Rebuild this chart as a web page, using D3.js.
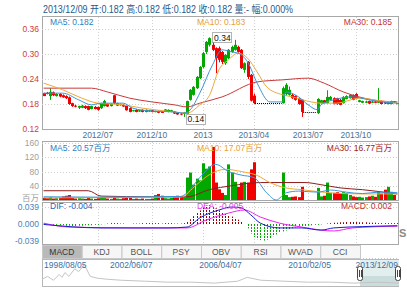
<!DOCTYPE html>
<html><head><meta charset="utf-8">
<script src="https://cdn.jsdelivr.net/npm/d3@7"></script>
<style>body{margin:0;background:#fff;overflow:hidden}svg{display:block;font-family:"Liberation Sans","Noto Sans CJK SC",Arial,sans-serif}</style>
</head><body><svg id="c" width="407" height="289"></svg>
<script>
// ---------- DATA ----------
const headerText = "2013/12/09 开:0.182 高:0.182 低:0.182 收:0.182 量:- 幅:0.000%";
const opens = [
.206,.207,.199,.208,.199,.204,.201,.199,.196,.182,
.176,.171,.171,.175,.175,.168,.173,.173,.170,.175,
.180,.175,.201,.176,.177,.178,.176,.170,.163,.166,
.162,.166,.161,.162,.165,.161,.163,.161,.163,.161,
.161,.162,.159,.157,.156,.156,.190,.202,.218,.242,
.269,.305,.322,.322,.314,.314,.305,.278,.290,.305,
.310,.317,.310,.262,.281,.250,.200,null,null,null,
null,null,null,null,null,.182,.204,.202,.202,.199,
.194,.190,null,null,null,null,.158,.182,.189,.182,
.190,.194,.194,.190,.182,.192,.194,.201,.204,.185,
.183,.183,.187,.183,.186,.183,.187,.185,.180,.180,
.186,.182];
const highs = [
.207,.209,.218,.210,.206,.206,.203,.201,.198,.183,
.178,.176,.178,.177,.176,.176,.175,.174,.183,.190,
.182,.181,.202,.183,.181,.179,.177,.172,.166,.168,
.166,.167,.167,.166,.166,.164,.164,.162,.168,.167,
.166,.163,.160,.158,.161,.188,.216,.223,.247,.271,
.305,.331,.340,.340,.316,.318,.307,.300,.312,.320,
.334,.320,.312,.280,.283,.252,.205,null,null,null,
null,null,null,null,null,.222,.230,.222,.205,.201,
.196,.192,null,null,null,null,.194,.190,.190,.213,
.199,.196,.195,.192,.199,.201,.204,.203,.206,.190,
.188,.188,.188,.187,.187,.218,.188,.186,.185,.188,
.187,.182];
const lows = [
.199,.203,.190,.199,.198,.196,.195,.192,.178,.173,
.172,.168,.170,.168,.165,.167,.167,.164,.168,.174,
.173,.174,.180,.175,.176,.173,.164,.160,.162,.160,
.161,.160,.160,.161,.160,.160,.158,.159,.162,.160,
.160,.156,.154,.153,.149,.155,.188,.200,.216,.240,
.266,.300,.318,.307,.254,.280,.276,.274,.288,.303,
.308,.303,.264,.255,.240,.186,.180,null,null,null,
null,null,null,null,null,.181,.200,.200,.192,.188,
.178,.149,null,null,null,null,.156,.181,.181,.181,
.188,.179,.178,.177,.181,.191,.193,.189,.191,.184,
.182,.182,.180,.182,.182,.182,.179,.180,.179,.179,
.182,.182];
const closes = [
.199,.204,.209,.201,.204,.198,.196,.194,.180,.175,
.174,.175,.176,.170,.166,.175,.168,.166,.182,.187,
.174,.180,.182,.182,.180,.174,.165,.161,.165,.161,
.165,.161,.166,.165,.161,.163,.159,.160,.167,.166,
.165,.157,.155,.155,.160,.187,.214,.221,.245,.269,
.302,.329,.338,.310,.290,.286,.281,.298,.310,.317,
.322,.305,.266,.278,.245,.188,.182,null,null,null,
null,null,null,null,null,.218,.226,.214,.194,.190,
.180,.161,null,null,null,null,.192,.189,.182,.197,
.197,.180,.180,.178,.197,.199,.202,.190,.192,.189,
.187,.186,.181,.186,.183,.187,.180,.181,.184,.187,
.183,.182];
const volumes = [
6,5,8,4,5,6,10,12,14,6,
4,5,4,3,6,4,3,5,7,6,
4,3,9,4,3,5,8,6,3,4,
3,4,3,3,4,14,17,12,5,4,
6,9,12,10,8,63,77,43,60,55,
103,88,94,149,49,30,20,14,100,77,
51,37,49,51,49,86,106,0,0,0,
0,0,0,0,0,77,14,8,9,10,
8,37,0,0,0,0,34,10,12,49,
20,20,22,18,22,20,14,10,8,9,
7,8,10,12,9,23,18,29,37,23,
14,0];
const macdBars = [
0.001,0,-0.001,-0.002,-0.002,-0.003,-0.003,-0.004,-0.004,-0.005,
-0.005,-0.004,-0.004,-0.003,-0.003,-0.003,-0.002,-0.002,-0.001,0,
0.001,0.002,0.002,0.002,0.001,0.001,0,0,0.001,0.001,
0.001,0.002,0.002,0.002,0.002,0.002,0.002,0.001,0.002,0.002,
0.002,0.001,0.001,0.001,0.002,0.005,0.011,0.018,0.025,0.031,
0.038,0.042,0.043,0.040,0.036,0.031,0.026,0.023,0.020,0.017,
0.014,0.010,0.006,0,-0.010,-0.022,-0.030,-0.035,-0.037,-0.038,
-0.036,-0.032,-0.028,-0.024,-0.020,-0.017,-0.015,-0.012,-0.010,-0.008,
-0.006,-0.005,-0.005,-0.004,-0.003,-0.002,-0.002,-0.001,0,0.001,
0.002,0.003,0.003,0.004,0.004,0.005,0.005,0.005,0.005,0.004,
0.004,0.004,0.003,0.003,0.003,0.002,0.002,0.002,0.002,0.002,
0.002,0.002];

// moving-average lines (candle index, value)
const ma5Idx  = [0,6,11,15,18,22,25,28,34,41,44,46,49,53,56,59,61,64,67,71,75,76,80,83,86,87,91,97,102,106,111];
const ma5Vals = [.206,.206,.190,.178,.182,.182,.182,.170,.163,.161,.158,.166,.206,.274,.310,.305,.302,.281,.230,.185,.185,.209,.197,.178,.166,.178,.190,.197,.190,.185,.182];
const ma10Idx  = [0,6,12,17,25,31,41,45,49,52,55,58,61,64,67,70,75,78,84,87,92,99,106,111];
const ma10Vals = [.230,.214,.194,.182,.178,.170,.161,.158,.178,.200,.262,.286,.302,.290,.257,.221,.202,.197,.185,.182,.182,.194,.187,.183];
const ma30Idx  = [0,15,20,27,34,41,45,49,56,67,75,83,88,94,99,106,111];
const ma30Vals = [.218,.218,.209,.194,.185,.178,.173,.182,.197,.233,.238,.242,.230,.209,.197,.187,.185];

const vma5Idx  = [0,18,34,43,45,49,54,58,62,66,70,73,76,80,86,90,95,100,105,111];
const vma5Vals = [9,8,9,10,20,63,100,80,70,63,20,0,20,25,22,28,22,18,22,20.57];
const vma10Idx  = [0,43,48,52,57,62,67,71,76,81,90,100,111];
const vma10Vals = [6,8,43,71,86,80,69,49,34,29,20,17,17.07];
const vma30Idx  = [0,14,18,34,45,52,59,68,82,87,93,100,111];
const vma30Vals = [26,26,11,9,9,29,40,49,49,43,34,29,16.77];

const difIdx  = [0,18,39,45,49,55,59,62,65,68,74,81,87,91,100,111];
const difVals = [-0.001,-0.009,-0.009,-0.007,0.014,0.032,0.039,0.037,0.021,0.002,-0.009,-0.009,-0.014,-0.009,-0.006,-0.004];
const deaIdx  = [0,8,28,45,51,58,63,68,74,81,87,91,97,111];
const deaVals = [0.002,-0.007,-0.009,-0.009,0.009,0.025,0.032,0.016,0.002,-0.007,-0.014,-0.016,-0.009,-0.005];

const priceTicks = [0.12,0.18,0.24,0.30,0.36];
const volTicks = [40,80,120,160];
const volUnit = "百万";
const macdTicks = [-0.039,0,0.039];
const dateTickIdx = [17,34,50,66,83,98];
const dateTickLabels = ["2012/07","2012/10","2013","2013/04","2013/07","2013/10"];
const maxLabel = "0.34", minLabel = "0.14";

const priceLegend = ["MA5: 0.182","MA10: 0.183","MA30: 0.185"];
const volLegend = ["MA5: 20.57百万","MA10: 17.07百万","MA30: 16.77百万"];
const macdLegend = ["DIF: -0.004","DEA: -0.005","MACD: 0.002"];
const tabs = ["MACD","KDJ","BOLL","PSY","OBV","RSI","WVAD","CCI"];

const navDates = ["1998-08-05","1998-11-01","1999-02-01","1999-05-01","1999-06-15","1999-08-01","1999-10-01","2000-01-01","2000-03-01","2000-06-01","2000-09-01","2001-01-01","2001-06-01","2002-01-01","2003-01-01","2004-01-01","2005-01-01","2006-01-01","2007-01-01","2007-06-01","2008-01-01","2009-01-01","2010-01-01","2011-01-01","2012-01-01","2013-01-01","2013-12-09"];
const navVals = [7,10,6,12,9,14,10,18,15,22,10,8,7,6,5,4,4,3,5,9,6,5,4,4,3,4,3];
const navLabelDates = ["1998-08-05","2002-06-07","2006-04-07","2010-02-05","2013-12-09"];
const navLabels = ["1998/08/05","2002/06/07","2006/04/07","2010/02/05","2013/12/09"];
const navSelection = ["2012-04-06","2013-12-09"];

// ---------- DRAW ----------
const svg = d3.select("#c");
const N = closes.length;
const L = 42, R = 399;
const x = d3.scaleLinear().domain([-0.5, N-0.5]).range([L, R]);
const yP = d3.scaleLinear().domain([0.12, 0.36]).range([129, 29]);
const yV = d3.scaleLinear().domain([0, 160]).range([200, 143]);
const yM = d3.scaleLinear().domain([-0.039, 0.039]).range([241, 207]);
const upC = "#00a800", dnC = "#f20000";
const isUp = i => closes[i] >= opens[i];

svg.append("rect").attr("width",407).attr("height",289).attr("fill","#fff");

// header
svg.append("text").attr("x",43).attr("y",13).attr("font-size",10).attr("fill","#1f5a8a")
  .attr("textLength",250).attr("lengthAdjust","spacingAndGlyphs").text(headerText);

// panel frames
function frame(y0,y1){
  svg.append("rect").attr("x",L+0.5).attr("y",y0+0.5).attr("width",R-L-1).attr("height",y1-y0)
    .attr("fill","none").attr("stroke","#a8a8a8");
}
frame(16,129); frame(141,200); frame(202,244);

// grid
function hgrid(scale, vals){
  svg.append("g").selectAll("line").data(vals).join("line")
    .attr("x1",L).attr("x2",R).attr("y1",d=>Math.round(scale(d))+0.5).attr("y2",d=>Math.round(scale(d))+0.5)
    .attr("stroke","#cfcfcf").attr("stroke-dasharray","1,2");
}
function vgrid(y0,y1){
  svg.append("g").selectAll("line").data(dateTickIdx).join("line")
    .attr("x1",d=>Math.round(x(d))+0.5).attr("x2",d=>Math.round(x(d))+0.5).attr("y1",y0).attr("y2",y1)
    .attr("stroke","#cfcfcf").attr("stroke-dasharray","1,2");
}
hgrid(yP,[0.18,0.24,0.30,0.36]); vgrid(17,129);
hgrid(yV,[40,80,120,160]); vgrid(142,200);
hgrid(yM,[0.039]); vgrid(203,244);

// axes
function leftAxis(scale, vals, fmt, color){
  const g = svg.append("g").attr("transform",`translate(${L-1},0)`)
    .call(d3.axisLeft(scale).tickValues(vals).tickSize(0).tickPadding(2).tickFormat(fmt));
  g.select(".domain").remove();
  g.attr("font-size",8.5).attr("font-family",null);
  g.selectAll("text").attr("fill",color);
}
leftAxis(yP, priceTicks, d3.format(".2f"), "#d23a3a");
leftAxis(yV, volTicks, d3.format("d"), "#a0a0a0");
svg.append("text").attr("x",L-3).attr("y",yV(0)+1).attr("text-anchor","end").attr("font-size",8.5).attr("fill","#a0a0a0").text(volUnit);
leftAxis(yM, macdTicks, d=>d3.format(".3f")(d).replace("−","-"), "#4a82b8");

// date labels
svg.append("g").selectAll("text").data(dateTickIdx).join("text")
  .attr("x",d=>x(d)).attr("y",138).attr("text-anchor","middle").attr("font-size",8.5).attr("fill","#4f7090")
  .text((d,i)=>dateTickLabels[i]);

// suspension dotted lines
const idxs = d3.range(N);
let runs = [];
for (let i=0;i<N;i++){
  if (closes[i]===null && (i===0 || closes[i-1]!==null)) runs.push([i-1,i]);
  if (closes[i]===null) runs[runs.length-1][1]=i+1;
}
svg.append("g").selectAll("line").data(runs).join("line")
  .attr("x1",d=>x(d[0])+1).attr("x2",d=>x(d[1])-1)
  .attr("y1",d=>Math.round(yP(closes[d[0]]))+0.5).attr("y2",d=>Math.round(yP(closes[d[0]]))+0.5)
  .attr("stroke","#000").attr("stroke-dasharray","1,1");

// candles
const cIdx = idxs.filter(i=>closes[i]!==null);
const cg = svg.append("g");
cg.selectAll("line").data(cIdx).join("line")
  .attr("x1",i=>Math.round(x(i))+0.5).attr("x2",i=>Math.round(x(i))+0.5)
  .attr("y1",i=>yP(highs[i])).attr("y2",i=>yP(lows[i]))
  .attr("stroke",i=>isUp(i)?upC:dnC);
cg.selectAll("rect").data(cIdx).join("rect")
  .attr("x",i=>Math.round(x(i))-1).attr("width",3)
  .attr("y",i=>yP(Math.max(opens[i],closes[i])))
  .attr("height",i=>Math.max(1,Math.abs(yP(opens[i])-yP(closes[i]))))
  .attr("fill",i=>isUp(i)?upC:dnC);

// MA lines
function maLine(ix, vals, scale, color){
  const pts = ix.map((d,i)=>[d, vals[i]]);
  svg.append("path").datum(pts)
    .attr("d", d3.line().x(d=>x(d[0])).y(d=>scale(d[1])).curve(d3.curveMonotoneX))
    .attr("fill","none").attr("stroke",color).attr("stroke-width",1);
}
maLine(ma30Idx, ma30Vals, yP, "#c83a3a");
maLine(ma10Idx, ma10Vals, yP, "#f0a838");
maLine(ma5Idx, ma5Vals, yP, "#3a96d8");

// min/max markers
const iMax = d3.maxIndex(highs), iMin = d3.minIndex(lows.map(v=>v===null?Infinity:v));
function marker(i, val, label, dx, dy){
  const bx = x(i)+dx, by = yP(val)+dy;
  svg.append("rect").attr("x",Math.round(bx)+0.5).attr("y",Math.round(by)+0.5).attr("width",19).attr("height",10)
    .attr("fill","#fff").attr("stroke","#666").attr("stroke-dasharray","1,1");
  svg.append("text").attr("x",bx+10).attr("y",by+8.5).attr("text-anchor","middle").attr("font-size",8.5).attr("fill","#111").text(label);
}
marker(iMax, highs[iMax], maxLabel, 3, -5);
marker(iMin, lows[iMin], minLabel, 2, -3);

// legends
function legend(texts, y, colors){
  svg.append("text").attr("x",50).attr("y",y).attr("font-size",8.5).attr("fill",colors[0]).text(texts[0]);
  svg.append("text").attr("x",197).attr("y",y).attr("font-size",8.5).attr("fill",colors[1]).text(texts[1]);
  svg.append("text").attr("x",392).attr("y",y).attr("text-anchor","end").attr("font-size",8.5).attr("fill",colors[2]).text(texts[2]);
}
legend(priceLegend, 25, ["#2a7fc0","#e8a030","#c83030"]);

// volume bars
const vIdx = idxs.filter(i=>closes[i]!==null && volumes[i]>0);
svg.append("g").selectAll("rect").data(vIdx).join("rect")
  .attr("x",i=>Math.round(x(i))-1).attr("width",3)
  .attr("y",i=>yV(volumes[i])).attr("height",i=>yV(0)-yV(volumes[i]))
  .attr("fill",i=>isUp(i)?upC:dnC);
maLine(vma30Idx, vma30Vals, yV, "#8e1c1c");
maLine(vma10Idx, vma10Vals, yV, "#f0a838");
maLine(vma5Idx, vma5Vals, yV, "#3a96d8");
legend(volLegend, 151, ["#2a7fc0","#e8a030","#a02020"]);

// MACD
svg.append("g").selectAll("line").data(idxs.filter(i=>macdBars[i]!==0)).join("line")
  .attr("x1",i=>Math.round(x(i))+0.5).attr("x2",i=>Math.round(x(i))+0.5)
  .attr("y1",yM(0)).attr("y2",i=>yM(macdBars[i]))
  .attr("stroke",i=>macdBars[i]>0?"#9a0000":"#00a800").attr("stroke-dasharray","2,1");
maLine(deaIdx, deaVals, yM, "#ee22ee");
maLine(difIdx, difVals, yM, "#1a1ad0");
legend(macdLegend, 209, ["#2a5fc0","#e040e0","#c03030"]);

// right-edge fragment
svg.append("text").attr("x",399).attr("y",237).attr("font-size",11).attr("font-weight","bold").attr("fill","#8a8a8a").text("S");

// tabs
const tb = d3.scaleBand().domain(tabs).range([L,360]);
const tg = svg.append("g");
tg.selectAll("rect").data(tabs).join("rect")
  .attr("x",d=>tb(d)+0.5).attr("y",245.5).attr("width",tb.bandwidth()).attr("height",13)
  .attr("fill",(d,i)=>i===0?"#b9b9b9":"#f6f6f6").attr("stroke","#c8c8c8");
tg.selectAll("text").data(tabs).join("text")
  .attr("x",d=>tb(d)+tb.bandwidth()/2).attr("y",255).attr("text-anchor","middle").attr("font-size",8.5)
  .attr("fill",(d,i)=>i===0?"#333":"#555").text(d=>d);
svg.append("line").attr("x1",360).attr("x2",R).attr("y1",258.5).attr("y2",258.5).attr("stroke","#c8c8c8").attr("stroke-dasharray","1,2");

// navigator
const pd = d3.timeParse("%Y-%m-%d");
const nx = d3.scaleTime().domain([pd(navDates[0]), pd(navDates[navDates.length-1])]).range([L,R]);
const ny = d3.scaleLinear().domain([0,25]).range([286,262]);
svg.append("rect").attr("x",L+0.5).attr("y",259.5).attr("width",R-L-1).attr("height",27).attr("fill","#fff").attr("stroke","#b8b8b8");
const s0 = nx(pd(navSelection[0])), s1 = nx(pd(navSelection[1]));
svg.append("rect").attr("x",s0).attr("y",260).attr("width",s1-s0).attr("height",26).attr("fill","#e3eeee");
svg.append("rect").attr("x",s0).attr("y",276).attr("width",s1-s0).attr("height",10).attr("fill","#c9dddd");
svg.append("path").datum(navDates.map((d,i)=>[pd(d),navVals[i]]))
  .attr("d",d3.line().x(d=>nx(d[0])).y(d=>ny(d[1])))
  .attr("fill","none").attr("stroke","#c4c4c4").attr("stroke-width",1);
svg.append("g").selectAll("line").data(navLabelDates.slice(1,4)).join("line")
  .attr("x1",d=>Math.round(nx(pd(d)))+0.5).attr("x2",d=>Math.round(nx(pd(d)))+0.5).attr("y1",260).attr("y2",263)
  .attr("stroke","#aaa");
svg.append("g").selectAll("text").data(navLabelDates).join("text")
  .attr("x",(d,i)=> i===0 ? L+2 : (i===navLabelDates.length-1 ? R-1 : nx(pd(d))))
  .attr("text-anchor",(d,i)=> i===0 ? "start" : (i===navLabelDates.length-1 ? "end" : "middle"))
  .attr("y",268).attr("font-size",8.5).attr("fill","#3d6fa3").text((d,i)=>navLabels[i]);
// handles
[s0, s1-1].forEach(hx=>{
  svg.append("rect").attr("x",hx-2.5).attr("y",266.5).attr("width",5).attr("height",14).attr("rx",2)
    .attr("fill","#fff").attr("stroke","#444");
  svg.append("line").attr("x1",hx-0.5).attr("x2",hx-0.5).attr("y1",270).attr("y2",277).attr("stroke","#444");
  svg.append("line").attr("x1",hx+1.5).attr("x2",hx+1.5).attr("y1",270).attr("y2",277).attr("stroke","#444");
});
</script>
</body></html>
